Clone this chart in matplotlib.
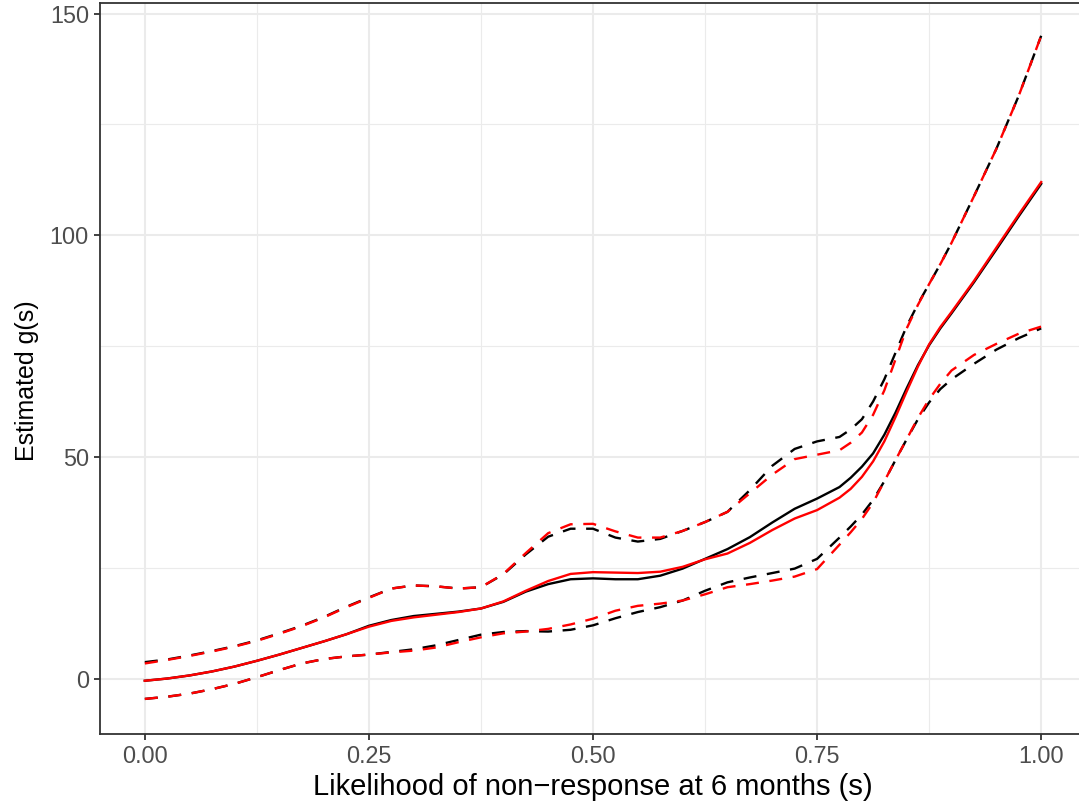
import matplotlib.pyplot as plt
from matplotlib.ticker import MultipleLocator

plt.rcParams['font.family'] = ['Liberation Sans', 'DejaVu Sans']

# s values the curves were evaluated on (denser where g(s) rises fast)
s = [0.000, 0.025, 0.050, 0.075, 0.100, 0.125, 0.150, 0.175, 0.200, 0.225,
     0.250, 0.275, 0.300, 0.325, 0.350, 0.375, 0.400, 0.425, 0.450, 0.475,
     0.500, 0.525, 0.550, 0.575, 0.600, 0.625, 0.650, 0.675, 0.700, 0.725,
     0.750, 0.775, 0.7875, 0.800, 0.8125, 0.825, 0.8375, 0.850, 0.8625,
     0.875, 0.8875, 0.900, 0.925, 0.950, 0.975, 1.000]

# model 1 (black): estimate and pointwise band
g1_est = [-0.5, 0.0, 0.7, 1.6, 2.7, 4.0, 5.4, 6.9, 8.4, 10.0,
          11.9, 13.2, 14.1, 14.6, 15.1, 15.8, 17.3, 19.6, 21.3, 22.4,
          22.6, 22.4, 22.4, 23.2, 24.8, 27.0, 29.2, 31.9, 35.2, 38.3,
          40.6, 43.2, 45.3, 47.8, 50.8, 55.0, 60.0, 65.5, 70.7,
          75.2, 79.0, 82.4, 89.4, 96.8, 104.3, 111.6]
g1_hi = [3.7, 4.3, 5.2, 6.2, 7.3, 8.6, 10.2, 11.9, 13.9, 16.2,
         18.3, 20.3, 21.0, 20.8, 20.3, 20.6, 23.5, 28.0, 32.0, 33.8,
         33.8, 31.8, 30.9, 31.5, 33.3, 35.3, 37.6, 42.5, 48.0, 51.8,
         53.5, 54.5, 56.2, 58.5, 62.5, 67.5, 73.5, 79.5, 84.5,
         89.0, 93.5, 98.3, 108.8, 119.5, 131.5, 145.0]
g1_lo = [-4.6, -4.1, -3.4, -2.4, -1.2, 0.3, 1.9, 3.4, 4.4, 5.0,
         5.4, 6.0, 6.6, 7.5, 8.7, 9.9, 10.5, 10.7, 10.6, 11.0,
         12.0, 13.6, 15.0, 16.1, 17.6, 19.8, 21.7, 22.8, 23.8, 24.8,
         27.0, 31.8, 34.3, 37.0, 40.3, 44.5, 49.3, 54.0, 58.5,
         62.3, 65.3, 67.5, 71.0, 74.2, 76.8, 79.0]

# model 2 (red)
g2_est = [-0.5, 0.0, 0.7, 1.6, 2.7, 4.0, 5.4, 6.9, 8.4, 10.0,
          11.7, 13.0, 13.8, 14.4, 15.0, 15.8, 17.4, 19.8, 22.0, 23.6,
          24.0, 23.9, 23.8, 24.1, 25.2, 26.9, 28.2, 30.6, 33.5, 36.1,
          38.0, 40.8, 42.8, 45.5, 49.0, 53.5, 59.0, 64.8, 70.4,
          75.4, 79.3, 82.7, 89.7, 97.2, 104.7, 112.0]
g2_hi = [3.4, 4.2, 5.1, 6.1, 7.2, 8.5, 10.1, 11.8, 13.8, 16.1,
         18.2, 20.3, 21.0, 20.8, 20.3, 20.6, 23.6, 28.3, 32.8, 34.8,
         34.9, 33.2, 31.8, 31.8, 33.3, 35.3, 37.6, 41.8, 46.0, 49.5,
         50.5, 51.5, 53.2, 55.5, 59.5, 65.0, 72.0, 79.0, 84.3,
         89.0, 93.5, 98.3, 108.8, 119.5, 131.5, 145.0]
g2_lo = [-4.6, -4.1, -3.4, -2.4, -1.2, 0.3, 1.9, 3.4, 4.4, 5.0,
         5.4, 5.9, 6.3, 7.0, 8.2, 9.3, 10.2, 10.6, 11.2, 12.2,
         13.5, 15.3, 16.4, 16.9, 17.6, 19.0, 20.6, 21.3, 22.1, 23.0,
         24.7, 30.2, 33.0, 36.0, 39.7, 44.5, 49.3, 54.0, 58.8,
         63.0, 66.5, 69.5, 73.0, 75.5, 77.8, 79.4]

fig = plt.figure(figsize=(10.79, 8.08), dpi=100)
ax = fig.add_axes([100 / 1079, 74.5 / 808, 986 / 1079, 730.5 / 808])

dash = (0, (5.5, 4.5))
for est, lo, hi, col in [(g1_est, g1_lo, g1_hi, 'black'),
                         (g2_est, g2_lo, g2_hi, '#FF0000')]:
    ax.plot(s, est, color=col, lw=1.7)
    ax.plot(s, hi, color=col, lw=1.7, linestyle=dash)
    ax.plot(s, lo, color=col, lw=1.7, linestyle=dash)

ax.set_xlim(-0.05, 1.05)
ax.set_ylim(-12.4, 152.4)
ax.set_xticks([0, 0.25, 0.5, 0.75, 1.0])
ax.set_xticklabels(['0.00', '0.25', '0.50', '0.75', '1.00'])
ax.set_yticks([0, 50, 100, 150])
ax.xaxis.set_minor_locator(MultipleLocator(0.125))
ax.yaxis.set_minor_locator(MultipleLocator(25))

ax.grid(True, which='major', color='#EBEBEB', lw=1.5)
ax.grid(True, which='minor', color='#EBEBEB', lw=0.8)
ax.set_axisbelow(True)

for sp in ax.spines.values():
    sp.set_color('#333333')
    sp.set_linewidth(1.3)

ax.tick_params(which='major', length=4, width=1.3, color='#333333',
               labelsize=16.8, labelcolor='#4D4D4D', pad=4)
ax.tick_params(which='minor', length=0)

ax.set_xlabel('Likelihood of non\u2212response at 6 months (s)',
              fontsize=21, labelpad=4)
fig.text(27.5 / 1079, 1 - 381 / 808, 'Estimated g(s)', fontsize=18,
         rotation=90, ha='center', va='center')

fig.savefig('out.png', dpi=100)
